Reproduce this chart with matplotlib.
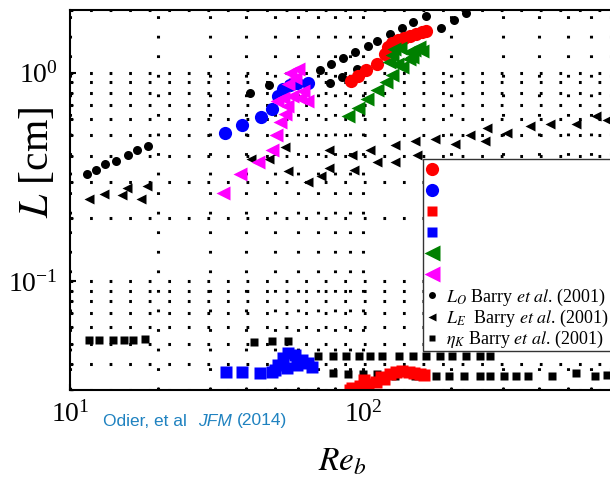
import matplotlib
matplotlib.use("Agg")
import matplotlib.pyplot as plt
from matplotlib.lines import Line2D
from matplotlib.ticker import NullFormatter

plt.rcParams['font.family'] = 'serif'
plt.rcParams['font.serif'] = ['Liberation Serif', 'DejaVu Serif']
plt.rcParams['mathtext.fontset'] = 'stix'

# Barry et al. (2001) - Ozmidov scale L_O
lo_re = [11.4, 12.3, 13.2, 14.4, 15.8, 16.9, 18.5, 41.1, 47.8, 71.3, 77.8, 85.5, 94.0,
         104, 112, 124, 136, 148, 164, 185, 205, 225, 77.1, 84.8, 95.4]
lo_len = [0.325, 0.343, 0.363, 0.375, 0.405, 0.428, 0.443, 0.802, 0.876, 1.03, 1.10, 1.18,
          1.26, 1.35, 1.42, 1.54, 1.64, 1.75, 1.87, 1.64, 1.79, 1.94, 0.896, 0.957, 1.04]

# Barry et al. (2001) - Ellison scale L_E
le_re = [11.6, 13.1, 15.0, 15.7, 17.5, 18.3, 41.5, 47.8, 54.2, 55.5, 64.9, 71.9, 76.5,
         76.5, 91.7, 93.1, 106, 112, 129, 129, 150, 153, 176, 206, 232, 265, 261, 310,
         371, 434, 533, 624, 680]
le_len = [0.247, 0.261, 0.258, 0.279, 0.247, 0.285, 0.384, 0.384, 0.438, 0.336, 0.298,
          0.318, 0.347, 0.424, 0.401, 0.340, 0.428, 0.371, 0.371, 0.448, 0.468, 0.405,
          0.483, 0.457, 0.505, 0.540, 0.468, 0.516, 0.557, 0.570, 0.570, 0.623, 0.596]

# Barry et al. (2001) - Kolmogorov scale eta_K
ek_re = [11.6, 12.6, 14.0, 15.3, 16.4, 18.0, 42.5, 48.9, 55.5,
         70.2, 79.0, 87.5, 96.9, 106, 116, 133, 148, 164, 183, 201, 225, 251, 271,
         79.0, 88.7, 99.8, 112, 129, 150, 178, 197, 222, 251, 271, 304, 333, 367,
         440, 533, 618, 681]
ek_len = [0.0522, 0.0522, 0.0522, 0.0522, 0.0522, 0.0528, 0.0511, 0.0516, 0.0516,
          0.0439, 0.0439, 0.0439, 0.0439, 0.0439, 0.0439, 0.0439, 0.0439, 0.0439,
          0.0439, 0.0439, 0.0439, 0.0439, 0.0439,
          0.0364, 0.0360, 0.0357, 0.0360, 0.0352, 0.0352, 0.0351, 0.0351, 0.0351,
          0.0351, 0.0351, 0.0351, 0.0351, 0.0351, 0.0349, 0.0362, 0.0349, 0.0354]

# Odier et al. (2014)
red_c_re = [91.0, 96.2, 102, 112, 119, 122, 126, 132, 138, 145, 152, 159, 164]
red_c_len = [0.916, 0.968, 1.03, 1.10, 1.23, 1.33, 1.39, 1.44, 1.47, 1.50, 1.54, 1.57, 1.59]

blue_c_re = [33.8, 38.7, 44.9, 48.9, 51.3, 53.3, 56.4, 59.5, 64.9]
blue_c_len = [0.511, 0.564, 0.616, 0.673, 0.776, 0.838, 0.876, 0.896, 0.896]

green_t_re = [88.9, 96.1, 103, 112, 120, 126, 136, 123, 126, 128, 134, 143, 143, 149,
              155, 159, 131, 147]
green_t_len = [0.623, 0.680, 0.751, 0.830, 0.906, 0.978, 1.06, 1.12, 1.21, 1.30, 1.32,
               1.26, 1.17, 1.29, 1.33, 1.27, 1.10, 1.19]

mag_t_re = [33.3, 38.0, 43.8, 48.9, 50.5, 52.1, 54.2, 55.0, 53.3, 57.2, 60.9, 64.4, 62.4,
            55.5, 58.6, 56.4, 60.0, 50.9]
mag_t_len = [0.264, 0.325, 0.371, 0.424, 0.505, 0.577, 0.637, 0.695, 0.759, 0.776, 0.759,
             0.734, 0.820, 0.886, 0.946, 1.00, 1.04, 0.734]

blue_s_re = [34.1, 38.6, 44.5, 48.9, 50.1, 51.3, 53.3, 55.0, 55.5, 58.6, 59.5, 61.9, 64.9, 67.0]
blue_s_len = [0.0367, 0.0367, 0.0363, 0.0367, 0.0375, 0.0396, 0.0428, 0.0383, 0.0452,
              0.0443, 0.0396, 0.0419, 0.0405, 0.0388]

red_s_re = [90.0, 91.7, 97.7, 101, 104, 111, 115, 118, 124, 130, 136, 143, 149, 157, 162]
red_s_len = [0.0300, 0.0308, 0.0315, 0.0335, 0.0322, 0.0329, 0.0345, 0.0340, 0.0359,
             0.0367, 0.0371, 0.0367, 0.0363, 0.0359, 0.0355]

x_ticks = [10, 100, 1000]
x_ticklabels = [r'$\mathdefault{10^{1}}$', r'$\mathdefault{10^{2}}$', '']

fig = plt.figure(figsize=(6.1, 4.8), dpi=100)
# axes run on past the right edge of the picture (cropped figure)
ax = fig.add_axes([70 / 610, 90 / 480, 586 / 610, 380 / 480])
ax.set_xscale('log')
ax.set_yscale('log')
ax.set_xlim(10, 1000)
ax.set_ylim(0.03, 2)
ax.set_xticks(x_ticks, x_ticklabels)

ax.grid(True, which='both', color='k', linestyle=(0, (0.9, 5.5)), linewidth=2.2, zorder=0)
ax.set_axisbelow(True)

# Barry et al. data
ax.plot(lo_re, lo_len, 'o', color='k', ms=6.5, mec='none')
ax.plot(le_re, le_len, '<', color='k', ms=7.5, mec='none')
ax.plot(ek_re, ek_len, 's', color='k', ms=5.5, mec='none')

# present data
ax.plot(blue_c_re, blue_c_len, 'o', color='#0000ff', ms=9.5, mec='none')
ax.plot(mag_t_re, mag_t_len, '<', color='#ff00ff', ms=10.5, mec='none')
ax.plot(red_c_re, red_c_len, 'o', color='#ff0000', ms=9.5, mec='none')
ax.plot(green_t_re, green_t_len, '<', color='#008000', ms=10.5, mec='none')
ax.plot(blue_s_re, blue_s_len, 's', color='#0000ff', ms=8.5, mec='none')
ax.plot(red_s_re, red_s_len, 's', color='#ff0000', ms=8.5, mec='none')

for s in ax.spines.values():
    s.set_linewidth(1.5)
ax.tick_params(which='both', direction='in', top=False, right=False)
ax.tick_params(which='major', length=4.5, width=1.5, labelsize=20)
ax.tick_params(which='minor', length=2.5, width=1)
ax.tick_params(axis='x', pad=8)
ax.tick_params(axis='y', pad=9)
ax.xaxis.set_minor_formatter(NullFormatter())
ax.yaxis.set_minor_formatter(NullFormatter())

ax.set_ylabel(r'$L$ [cm]', fontsize=30, va='center')
ax.yaxis.set_label_coords(-0.056, 0.60)
ax.set_xlabel(r'$Re_b$', fontsize=24, va='center')
ax.xaxis.set_label_coords(0.464, -0.19)

handles = [
    Line2D([], [], ls='none', marker='o', color='#ff0000', ms=9.5, mec='none'),
    Line2D([], [], ls='none', marker='o', color='#0000ff', ms=9.5, mec='none'),
    Line2D([], [], ls='none', marker='s', color='#ff0000', ms=7.5, mec='none'),
    Line2D([], [], ls='none', marker='s', color='#0000ff', ms=7.5, mec='none'),
    Line2D([], [], ls='none', marker='<', color='#008000', ms=11, mec='none'),
    Line2D([], [], ls='none', marker='<', color='#ff00ff', ms=11, mec='none'),
    Line2D([], [], ls='none', marker='o', color='k', ms=5, mec='none'),
    Line2D([], [], ls='none', marker='<', color='k', ms=5.5, mec='none'),
    Line2D([], [], ls='none', marker='s', color='k', ms=4.5, mec='none'),
]
# the coloured entries carry no visible text; a transparent copy keeps all rows equally tall
blank = r'$\eta_K L_O$ (2001)'
labels = [blank, blank, blank, blank, blank, blank,
          r'$L_O$ Barry $et\ al$. (2001)',
          r'$L_E$  Barry $et\ al$. (2001)',
          r'$\eta_K$ Barry $et\ al$. (2001)']
# legend box runs past the right edge of the figure
leg = fig.legend(handles, labels, loc='upper left',
                 bbox_to_anchor=(423 / 610, 0, 240 / 610, 1 - 159 / 480), mode='expand',
                 fontsize=13, frameon=True, fancybox=False, framealpha=1, edgecolor='#333333',
                 handlelength=0.85, handletextpad=0.35, borderpad=0.05, labelspacing=0.0,
                 borderaxespad=0)
leg.get_frame().set_linewidth(1.0)
for t in leg.get_texts()[:6]:
    t.set_color((0, 0, 0, 0))

# pointer lines leaving the legend to the right
fig.add_artist(Line2D([443 / 610, 1.0], [1 - 179 / 480, 1 - 166 / 480], color='k', lw=1.5))
fig.add_artist(Line2D([443 / 610, 1.0], [1 - 221 / 480, 1 - 256 / 480], color='k', lw=1.5))

blue_txt = '#1f82c0'
fig.text(103 / 610, 1 - 421 / 480, 'Odier, et al', color=blue_txt, fontsize=12.5,
         family='Liberation Sans', va='center')
fig.text(198 / 610, 1 - 421 / 480, 'JFM', color=blue_txt, fontsize=12.5,
         family='Liberation Sans', style='italic', va='center')
fig.text(237 / 610, 1 - 421 / 480, '(2014)', color=blue_txt, fontsize=12.5,
         family='Liberation Sans', va='center')

fig.savefig('out.png', dpi=100)
